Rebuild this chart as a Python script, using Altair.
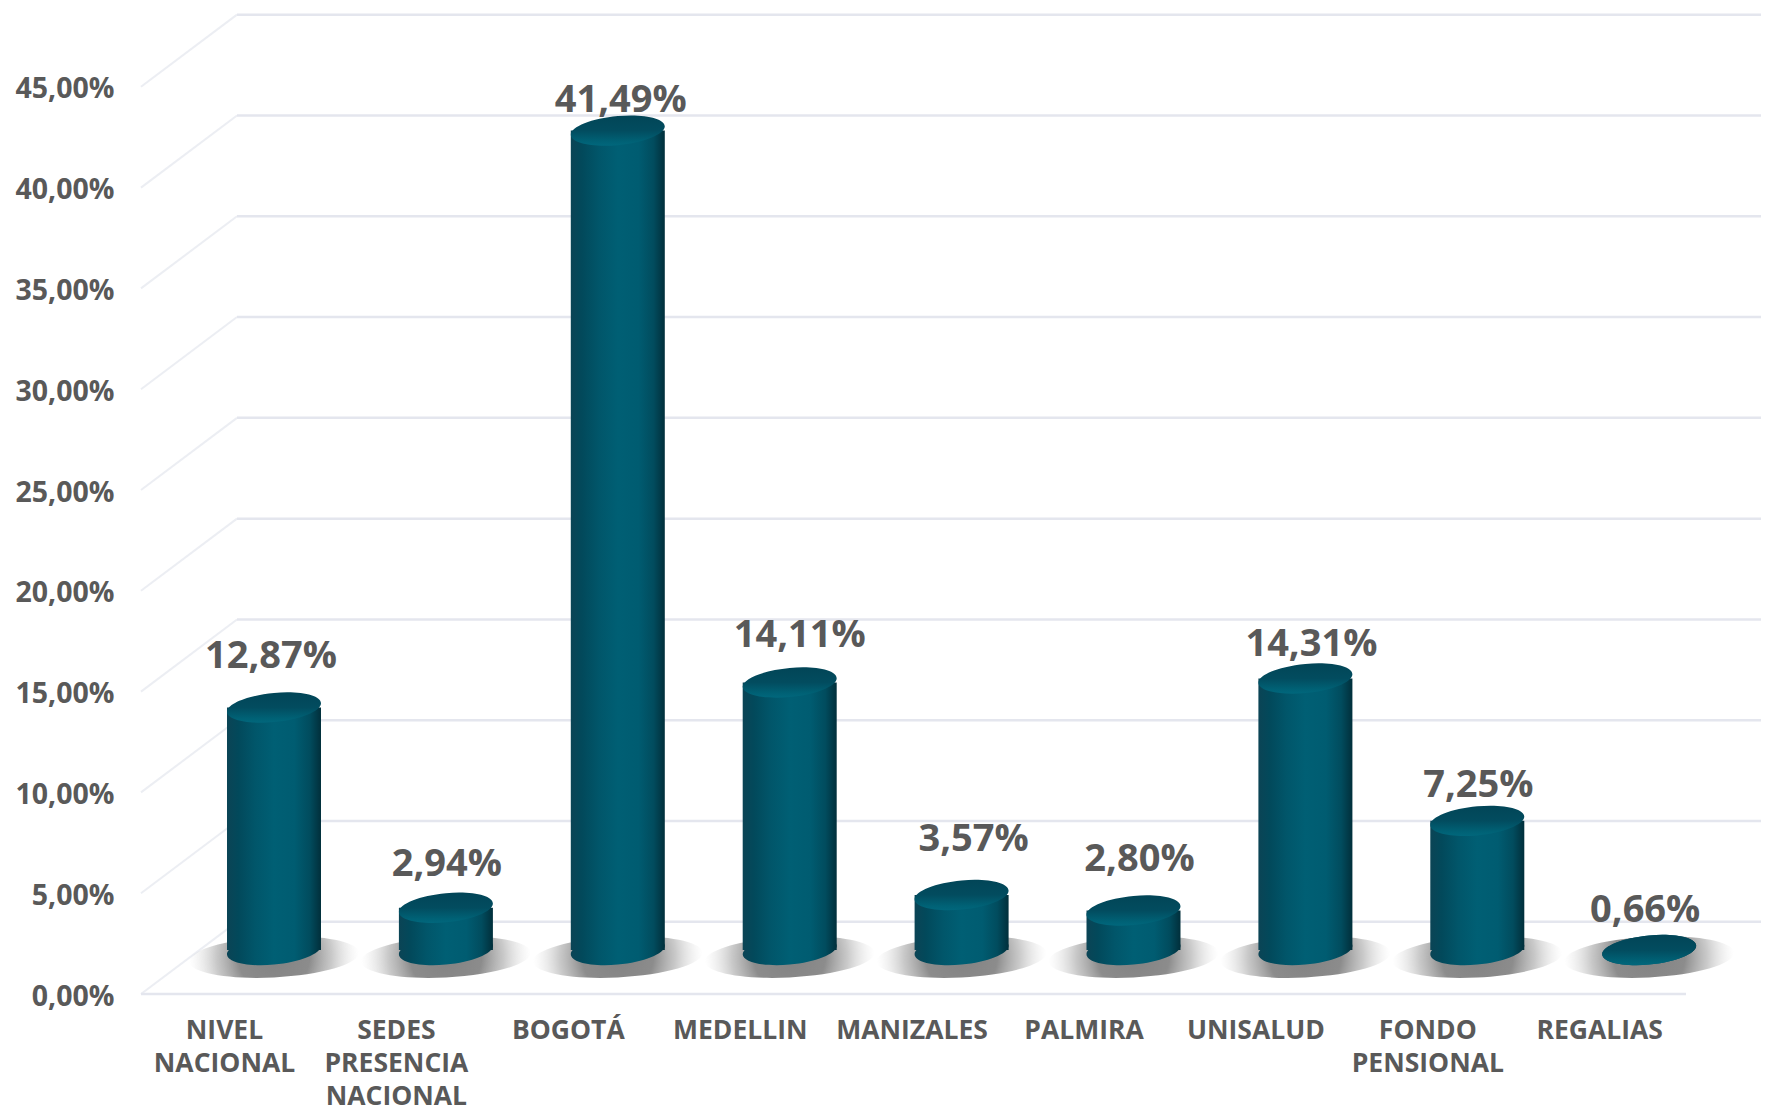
import json
import altair as alt
import pandas as pd

categories = ["NIVEL|NACIONAL", "SEDES|PRESENCIA|NACIONAL", "BOGOTÁ", "MEDELLIN", "MANIZALES",
              "PALMIRA", "UNISALUD", "FONDO|PENSIONAL", "REGALIAS"]
values = [12.87, 2.94, 41.49, 14.11, 3.57, 2.80, 14.31, 7.25, 0.66]
ticks = [0, 5, 10, 15, 20, 25, 30, 35, 40, 45]

FONT = "Open Sans"
TEXT = "#595959"
GRID = "#e4e6ee"
BAR_W = 94

df = pd.DataFrame({"i": range(len(values)), "value": values})
df["top"] = (1.34 + df["value"]).clip(lower=2.18)
df["base"] = 2.18
df["shadow"] = 1.83
df["label"] = df["value"].map(lambda v: f"{v:.2f}".replace(".", ",") + "%")
tdf = pd.DataFrame({"t": ticks})
tdf["back"] = tdf["t"] + 3.58

XMAX = (1761 - 274) / 171.9
x_s = alt.Scale(domain=[-0.7737, XMAX], nice=False, zero=False, padding=0)
y_s = alt.Scale(domain=[0, 48.91], nice=False, zero=False)

label_expr = "split(" + json.dumps(categories, ensure_ascii=False) + "[datum.value], '|')"
x_axis = alt.Axis(
    values=list(range(len(categories))), domain=False, ticks=False, grid=False, title=None,
    labelExpr=label_expr, labelOffset=-50, labelPadding=23, labelFont=FONT, labelFontSize=26.5,
    labelFontWeight=700, labelColor=TEXT, labelOverlap=False, labelFlush=False, labelBound=False,
    labelLineHeight=33, labelBaseline="top", labelAlign="center")
y_axis = alt.Axis(
    values=ticks, domain=False, ticks=False, grid=False, title=None,
    labelExpr="replace(format(datum.value, '.2f'), '.', ',') + '%'",
    labelFont=FONT, labelFontSize=28.5, labelFontWeight=700, labelColor=TEXT, labelPadding=27,
    labelOffset=2)


def ellipse_path(ay, by):
    k = 0.5523
    f = lambda a, b: f"{a:.3f},{b:.3f}"
    return ("M" + f(1, -ay)
            + "C" + f(1, -ay + k * by) + " " + f(k, by - k * ay) + " " + f(0, by)
            + "C" + f(-k, by + k * ay) + " " + f(-1, ay + k * by) + " " + f(-1, ay)
            + "C" + f(-1, ay - k * by) + " " + f(-k, -by + k * ay) + " " + f(0, -by)
            + "C" + f(k, -by - k * ay) + " " + f(1, -ay - k * by) + " " + f(1, -ay) + "Z")


def stops(pairs):
    return [alt.GradientStop(offset=o, color=c) for o, c in pairs]


side_grad = alt.Gradient(gradient="linear", x1=0, x2=1, y1=0, y2=0, stops=stops([
    (0, "#0b4455"), (0.12, "#02495b"), (0.3, "#01566a"), (0.5, "#005f74"),
    (0.72, "#005c71"), (0.88, "#014c5e"), (1, "#012f3b")]))
top_grad = alt.Gradient(gradient="linear", x1=0, x2=0, y1=0, y2=1, stops=stops([
    (0, "#024557"), (0.5, "#024c5f"), (0.85, "#006175"), (1, "#01677c")]))
shadow_grad = alt.Gradient(gradient="radial", x1=0.5, y1=0.5, r1=0, x2=0.5, y2=0.5, r2=0.5, stops=stops([
    (0, "rgba(130,130,130,1)"), (0.42, "rgba(140,140,140,1)"), (0.68, "rgba(165,165,165,0.6)"),
    (1, "rgba(215,215,215,0)")]))

X = alt.X("i:Q", scale=x_s, axis=x_axis)


def Y(field):
    return alt.Y(field, scale=y_s, axis=y_axis)


side = alt.Chart(tdf).mark_rule(color="#eceef3", strokeWidth=2).encode(
    x=alt.value(0), x2=alt.value(96), y=Y("t:Q"), y2="back:Q")
back = alt.Chart(tdf).mark_rule(color=GRID, strokeWidth=2.5).encode(
    x=alt.value(96), x2=alt.value(1620), y=Y("back:Q"))
floor = alt.Chart(tdf[tdf.t == 0]).mark_rule(color=GRID, strokeWidth=2.5).encode(
    x=alt.value(0), x2=alt.value(1545), y=Y("t:Q"))

shadow = alt.Chart(df).mark_point(filled=True, opacity=1, strokeWidth=0, color=shadow_grad,
                                  shape=ellipse_path(0.05, 0.24), size=170 ** 2).encode(
    x=X, y=Y("shadow:Q"))
bars = alt.Chart(df).mark_bar(color=side_grad, size=BAR_W).encode(x=X, y=Y("top:Q"), y2="base:Q")
bottoms = alt.Chart(df).mark_point(filled=True, opacity=1, strokeWidth=0, color=side_grad,
                                   shape=ellipse_path(0.09, 0.31), size=BAR_W ** 2).encode(
    x=X, y=Y("base:Q"))
tops = alt.Chart(df).mark_point(filled=True, opacity=1, strokeWidth=0, color=top_grad,
                                shape=ellipse_path(0.09, 0.31), size=BAR_W ** 2).encode(
    x=X, y=Y("top:Q"))

layers = [side, back, floor, shadow, bars, bottoms, tops]
for n, (dx, dy) in enumerate([(-3, -51), (1, -43), (3, -30), (10, -47), (12, -55),
                              (6, -51), (6, -34), (1, -35), (-4, -39)]):
    layers.append(alt.Chart(df[df.i == n]).mark_text(
        font=FONT, fontSize=38, fontWeight=700, color=TEXT, dx=dx, dy=dy, baseline="middle").encode(
        x=X, y=Y("top:Q"), text="label:N"))

chart = alt.layer(*layers).properties(
    width=1620, height=986,
    padding={"left": 133, "top": 0, "right": 0, "bottom": 121},
    autosize=alt.AutoSizeParams(type="none"),
    background="white",
).configure_view(stroke=None)

chart.save("out.html", embed_options={"renderer": "svg", "actions": False})
